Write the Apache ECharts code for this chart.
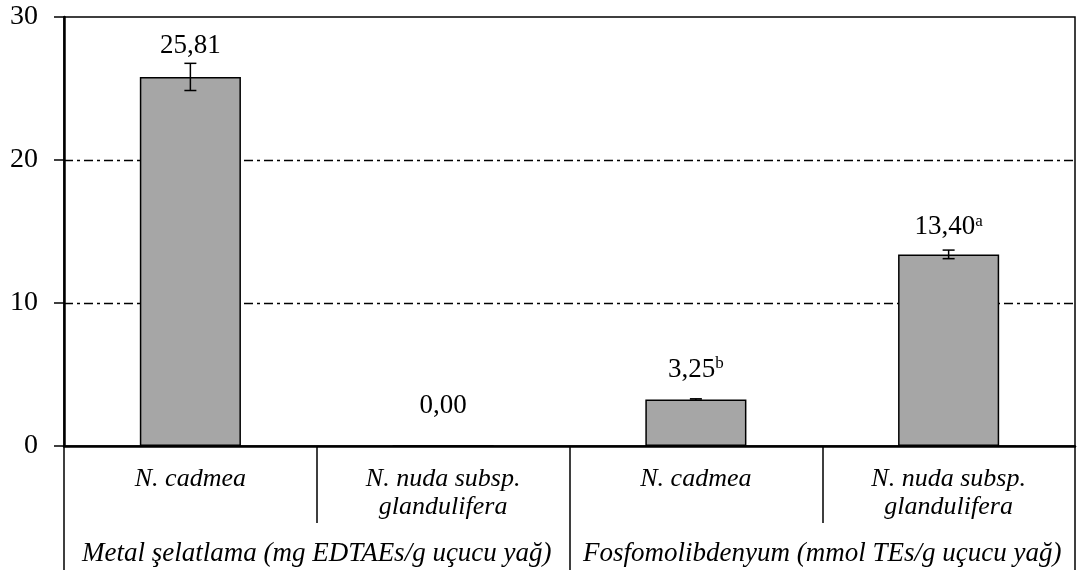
<!DOCTYPE html>
<html>
<head>
<meta charset="utf-8">
<script src="https://cdn.jsdelivr.net/npm/echarts@6/dist/echarts.min.js"></script>
<style>html,body{margin:0;padding:0;background:#fff}#c{width:1078px;height:576px}</style>
</head>
<body>
<div id="c"></div>
<script>
var categories = ['N. cadmea', 'N. nuda subsp.\nglandulifera', 'N. cadmea', 'N. nuda subsp.\nglandulifera'];
var groups = ['Metal şelatlama (mg EDTAEs/g uçucu yağ)', 'Fosfomolibdenyum (mmol TEs/g uçucu yağ)'];
var values = [25.81, 0.00, 3.25, 13.40];
var errors = [0.95, 0, 0.05, 0.3];
var letters = ['', '', 'b', 'a'];
var yTicks = [0, 10, 20, 30];

var labelDist = [18, 26, 16, 13];
var FONT = 'Liberation Serif';

var chart = echarts.init(document.getElementById('c'));
chart.setOption({
  animation: false,
  grid: { left: 64, right: 3, top: 17, bottom: 130, show: true, borderColor: '#000', borderWidth: 1.5, containLabel: false },
  xAxis: [{
    type: 'category', data: categories, position: 'bottom',
    axisLine: { show: true, lineStyle: { color: '#000', width: 2.5 } },
    axisTick: { show: true, interval: 0, length: 77, lineStyle: { color: '#000', width: 1.5 } },
    axisLabel: { interval: 0, margin: 19, color: '#000', fontFamily: FONT, fontStyle: 'italic', fontSize: 26, lineHeight: 28 },
    splitLine: { show: false }
  }, {
    type: 'category', data: groups, position: 'bottom',
    axisLine: { show: false },
    axisTick: { show: true, interval: 0, length: 124, lineStyle: { color: '#000', width: 1.5 } },
    axisLabel: { interval: 0, margin: 94, color: '#000', fontFamily: FONT, fontStyle: 'italic', fontSize: 27 },
    splitLine: { show: false }
  }],
  yAxis: {
    type: 'value', min: yTicks[0], max: yTicks[yTicks.length - 1], interval: 10,
    axisLine: { show: true, lineStyle: { color: '#000', width: 2.5 } },
    axisTick: { show: true, length: 10, lineStyle: { color: '#000', width: 1.5 } },
    axisLabel: { color: '#000', fontFamily: FONT, fontSize: 28, margin: 26 },
    splitLine: { show: true, showMaxLine: false, showMinLine: false, lineStyle: { color: '#000', width: 1.3, type: [9, 4, 3, 4] } }
  },
  series: [{
    type: 'bar', xAxisIndex: 0, barWidth: '40%',
    data: values.map(function (v, i) {
      return {
        value: v,
        label: { distance: labelDist[i] }
      };
    }),
    itemStyle: { color: '#a6a6a6', borderColor: '#000', borderWidth: 1.5 },
    label: {
      show: true, position: 'top', color: '#000', fontFamily: FONT, fontSize: 27,
      formatter: function (p) {
        var t = values[p.dataIndex].toFixed(2).replace('.', ',');
        var l = letters[p.dataIndex];
        return l ? t + '{s|' + l + '}' : t;
      },
      rich: { s: { fontSize: 17, fontFamily: FONT, color: '#000', verticalAlign: 'top', padding: [0, 0, 11, 0] } }
    },
    z: 2
  }, {
    type: 'custom', xAxisIndex: 0,
    data: values.map(function (v, i) { return [i, v, errors[i]]; }),
    renderItem: function (params, api) {
      var x = api.value(0), v = api.value(1), e = api.value(2);
      if (!e) return null;
      var top = api.coord([x, v + e]);
      var bot = api.coord([x, v - e]);
      var cap = 6;
      var st = { stroke: '#000', lineWidth: 1.5 };
      return { type: 'group', children: [
        { type: 'line', shape: { x1: top[0], y1: top[1], x2: bot[0], y2: bot[1] }, style: st },
        { type: 'line', shape: { x1: top[0] - cap, y1: top[1], x2: top[0] + cap, y2: top[1] }, style: st },
        { type: 'line', shape: { x1: bot[0] - cap, y1: bot[1], x2: bot[0] + cap, y2: bot[1] }, style: st }
      ] };
    },
    z: 3
  }]
});
</script>
</body>
</html>
